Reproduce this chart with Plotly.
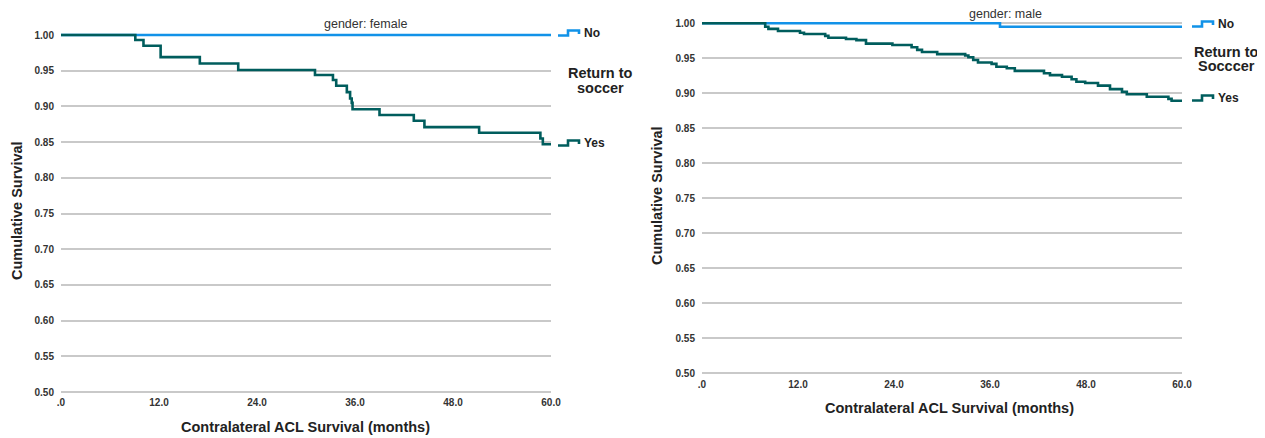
import plotly.graph_objects as go

# ---------------- data ----------------
female_no_t = [0, 60]
female_no_s = [1.0, 1.0]
female_yes_t = [0, 9.1, 10.1, 12.2, 17.0, 21.7, 31.1, 33.3, 33.7, 35.0, 35.4, 35.6, 35.7,
                39.0, 43.2, 44.5, 51.2, 58.7, 59.0, 60]
female_yes_s = [1.0, 0.993, 0.985, 0.969, 0.960, 0.951, 0.944, 0.937, 0.929, 0.920, 0.911,
                0.905, 0.896, 0.888, 0.880, 0.871, 0.863, 0.855, 0.847, 0.847]

male_no_t = [0, 37.25, 60]
male_no_s = [1.0, 0.995, 0.995]
male_yes_t = [0, 7.9, 8.3, 9.5, 12.25, 12.75, 15.4, 15.8, 18.0, 19.3, 20.5, 23.8, 26.2, 26.9,
              27.5, 29.4, 32.9, 33.3, 33.9, 34.5, 36.2, 36.8, 38.1, 39.1, 42.75, 43.5, 45.0,
              46.2, 46.8, 47.9, 49.5, 51.0, 52.5, 53.1, 55.6, 58.3, 58.7, 60]
male_yes_s = [1.0, 0.995, 0.992, 0.989, 0.9866, 0.9847, 0.982, 0.9794, 0.9776, 0.976, 0.971,
              0.969, 0.9657, 0.962, 0.959, 0.956, 0.954, 0.9514, 0.9476, 0.944, 0.942, 0.938,
              0.9357, 0.932, 0.9286, 0.926, 0.9237, 0.920, 0.9166, 0.9147, 0.911, 0.906, 0.902,
              0.8986, 0.895, 0.892, 0.8894, 0.8894]

x_tickvals = [0, 12, 24, 36, 48, 60]
x_ticktext = [".0", "12.0", "24.0", "36.0", "48.0", "60.0"]
y_tickvals = [0.50, 0.55, 0.60, 0.65, 0.70, 0.75, 0.80, 0.85, 0.90, 0.95, 1.00]
y_ticktext = ["0.50", "0.55", "0.60", "0.65", "0.70", "0.75", "0.80", "0.85", "0.90", "0.95", "1.00"]

panel_titles = ["gender: female", "gender: male"]
legend_titles = [["Return to", "soccer"], ["Return to", "Socccer"]]
group_labels = ["No", "Yes"]
x_title = "Contralateral ACL Survival (months)"
y_title = "Cumulative Survival"

# ---------------- style ----------------
W, H = 1265, 438
OFF = 8  # page body margin
BLUE = "#1192e8"
TEAL = "#005d5d"
GRID = "#c9c9c9"
FONT = "Liberation Sans, Arial, sans-serif"


def px(x):
    return (x - OFF) / W


def py(y):
    return (H - (y - OFF)) / H


fig = go.Figure()

LW = 2.6
fig.add_trace(go.Scatter(x=female_no_t, y=female_no_s, mode="lines", line=dict(color=BLUE, width=LW, shape="hv"),
                         xaxis="x", yaxis="y", showlegend=False, hoverinfo="skip"))
fig.add_trace(go.Scatter(x=female_yes_t, y=female_yes_s, mode="lines", line=dict(color=TEAL, width=LW, shape="hv"),
                         xaxis="x", yaxis="y", showlegend=False, hoverinfo="skip"))
fig.add_trace(go.Scatter(x=male_no_t, y=male_no_s, mode="lines", line=dict(color=BLUE, width=LW, shape="hv"),
                         xaxis="x2", yaxis="y2", showlegend=False, hoverinfo="skip"))
fig.add_trace(go.Scatter(x=male_yes_t, y=male_yes_s, mode="lines", line=dict(color=TEAL, width=LW, shape="hv"),
                         xaxis="x2", yaxis="y2", showlegend=False, hoverinfo="skip"))

YR = [0.498, 1.004]
# pixel geometry of the two plot areas (reference image pixels)
L = dict(x0=61, x1=551, ytop=35 - 0.004 * 714, ybot=35 + 0.502 * 714)
R = dict(x0=702, x1=1182, ytop=23.3 - 0.004 * 700, ybot=23.3 + 0.502 * 700)

tickfont = dict(family=FONT, size=10, color="#333333", weight="bold")
xcommon = dict(range=[0, 60], tickmode="array", tickvals=x_tickvals, ticktext=x_ticktext,
               showgrid=False, zeroline=False, showline=False, ticks="", tickfont=tickfont,
               ticklabelstandoff=2, fixedrange=True, automargin=False)
ycommon = dict(range=YR, tickmode="array", tickvals=y_tickvals, ticktext=y_ticktext,
               showgrid=True, gridcolor=GRID, gridwidth=1.6, zeroline=False, showline=False,
               ticks="", tickfont=tickfont, ticklabelstandoff=6, fixedrange=True, automargin=False)

fig.update_layout(
    width=W, height=H, autosize=False,
    margin=dict(l=0, r=0, t=0, b=0, pad=0, autoexpand=False),
    paper_bgcolor="white", plot_bgcolor="white", showlegend=False,
    xaxis=dict(domain=[px(L["x0"]), px(L["x1"])], anchor="y", **xcommon),
    yaxis=dict(domain=[py(L["ybot"]), py(L["ytop"])], anchor="x", **ycommon),
    xaxis2=dict(domain=[px(R["x0"]), px(R["x1"])], anchor="y2", **xcommon),
    yaxis2=dict(domain=[py(R["ybot"]), py(R["ytop"])], anchor="x2", **ycommon),
)

ann = []
titlefont = dict(family=FONT, size=14.5, color="#222222", weight="bold")
# axis titles
ann.append(dict(x=px(305), y=py(427), text=x_title, font=titlefont))
ann.append(dict(x=px(949), y=py(408), text=x_title, font=titlefont))
ann.append(dict(x=px(17), y=py(211), text=y_title, font=titlefont, textangle=-90))
ann.append(dict(x=px(657), y=py(196), text=y_title, font=titlefont, textangle=-90))
# panel titles
pfont = dict(family=FONT, size=12.5, color="#333333")
ann.append(dict(x=px(366), y=py(24), text=panel_titles[0], font=pfont))
ann.append(dict(x=px(1005), y=py(14), text=panel_titles[1], font=pfont))
# legend titles (two lines each, tight spacing)
lfont = dict(family=FONT, size=14.5, color="#222222", weight="bold")
for (cx, y1, y2), lines in zip([(600, 73, 88), (1226, 52, 66)], legend_titles):
    ann.append(dict(x=px(cx), y=py(y1), text=lines[0], font=lfont))
    ann.append(dict(x=px(cx), y=py(y2), text=lines[1], font=lfont))
# legend labels
gfont = dict(family=FONT, size=12, color="#222222", weight="bold")
legend_pos = [(582, 33, BLUE, group_labels[0]), (582, 143, TEAL, group_labels[1]),
              (1216, 24, BLUE, group_labels[0]), (1216, 98, TEAL, group_labels[1])]
shapes = []
for (lx, ly, col, lab) in legend_pos:
    ann.append(dict(x=px(lx), y=py(ly), text=lab, font=gfont, xanchor="left"))
    x0 = lx - 24
    xs = [x0, x0 + 10, x0 + 10, x0 + 21, x0 + 21]
    ys = [ly + 2.5, ly + 2.5, ly - 2.5, ly - 2.5, ly + 1]
    path = "M " + " L ".join(f"{px(a):.5f},{py(b):.5f}" for a, b in zip(xs, ys))
    shapes.append(dict(type="path", path=path, xref="paper", yref="paper",
                       line=dict(color=col, width=2.6)))

for a in ann:
    a.setdefault("xref", "paper")
    a.setdefault("yref", "paper")
    a.setdefault("showarrow", False)
    a.setdefault("xanchor", "center")
    a.setdefault("yanchor", "middle")

fig.update_layout(annotations=ann, shapes=shapes)

fig.write_html("out.html")
